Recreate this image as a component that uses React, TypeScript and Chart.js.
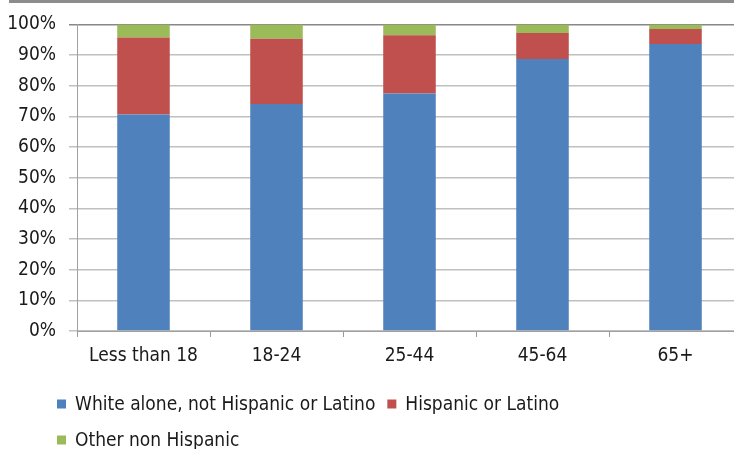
import React, { useEffect, useRef } from "react";
import { Chart, registerables } from "chart.js";

Chart.register(...registerables);

const categories = ["Less than 18", "18-24", "25-44", "45-64", "65+"];
const whiteAlone = [70.6, 74.0, 77.5, 88.7, 93.6];
const hispanic = [25.1, 21.3, 19.0, 8.5, 4.9];
const otherNonHispanic = [4.3, 4.7, 3.5, 2.8, 1.5];
const seriesNames = ["White alone, not Hispanic or Latino", "Hispanic or Latino", "Other non Hispanic"];
const seriesColors = ["#4F81BD", "#C0504D", "#9BBB59"];

const FONT = '"Liberation Sans Narrow", "DejaVu Sans Condensed", "Arial Narrow", sans-serif';

const decorPlugin = {
  id: "decor",
  beforeDraw(chart: any) {
    const ctx = chart.ctx;
    ctx.save();
    ctx.fillStyle = "#8c8c8c";
    ctx.fillRect(9, 0, chart.width - 9, 3);
    ctx.restore();
  },
  afterDraw(chart: any) {
    const ctx = chart.ctx;
    ctx.save();
    ctx.font = `19px ${FONT}`;
    ctx.textBaseline = "middle";
    ctx.textAlign = "left";
    const startX = 57;
    const limit = 734;
    let x = startX;
    let y = 404;
    const rowH = 36;
    chart.data.datasets.forEach((ds: any, i: number) => {
      const tw = ctx.measureText(ds.label).width;
      const w = 18 + tw;
      if (x !== startX && x + w > limit) {
        x = startX;
        y += rowH;
      }
      ctx.fillStyle = ds.backgroundColor;
      ctx.fillRect(x, y - 4.5, 9, 9);
      ctx.fillStyle = "#1a1a1a";
      ctx.fillText(ds.label, x + 18, y + 1);
      x += w + 12;
    });
    ctx.restore();
  },
};

export default function App() {
  const ref = useRef<HTMLCanvasElement>(null);
  useEffect(() => {
    document.body.style.margin = "0";
    const canvas = ref.current!;
    const values = [whiteAlone, hispanic, otherNonHispanic];
    const chart = new Chart(canvas, {
      type: "bar",
      data: {
        labels: categories,
        datasets: values.map((v, i) => ({
          label: seriesNames[i],
          data: v,
          backgroundColor: seriesColors[i],
          borderWidth: 0,
          barPercentage: 0.395,
          categoryPercentage: 1,
        })),
      },
      options: {
        animation: false,
        responsive: false,
        maintainAspectRatio: false,
        layout: { padding: { top: 24, right: 3, bottom: 78, left: 0 } },
        plugins: {
          legend: { display: false },
          tooltip: { enabled: false },
        },
        scales: {
          x: {
            stacked: true,
            grid: {
              drawOnChartArea: false,
              drawTicks: true,
              tickLength: 6,
              color: "#999999",
            },
            border: { color: "#a0a0a0", width: 1 },
            ticks: {
              color: "#1a1a1a",
              font: { family: FONT, size: 19 },
              padding: 8,
              maxRotation: 0,
            },
            afterFit(scale: any) {
              scale.height = 40;
            },
          },
          y: {
            stacked: true,
            min: 0,
            max: 100,
            ticks: {
              stepSize: 10,
              color: "#1a1a1a",
              font: { family: FONT, size: 19 },
              padding: 13,
              callback: (v: any) => `${v}%`,
            },
            grid: {
              color: (c: any) => (c.tick && c.tick.value === 100 ? "#888888" : "#c0c0c0"),
              lineWidth: 1.5,
              tickLength: 8,
            },
            border: { color: "#a0a0a0", width: 1 },
            afterFit(scale: any) {
              scale.width = 77;
            },
          },
        },
      },
      plugins: [decorPlugin],
    });
    return () => chart.destroy();
  }, []);
  return (
    <div style={{ width: 734, height: 449, overflow: "hidden", position: "relative" }}>
      <canvas ref={ref} width={745} height={449} style={{ display: "block", width: 745, height: 449 }} />
    </div>
  );
}
